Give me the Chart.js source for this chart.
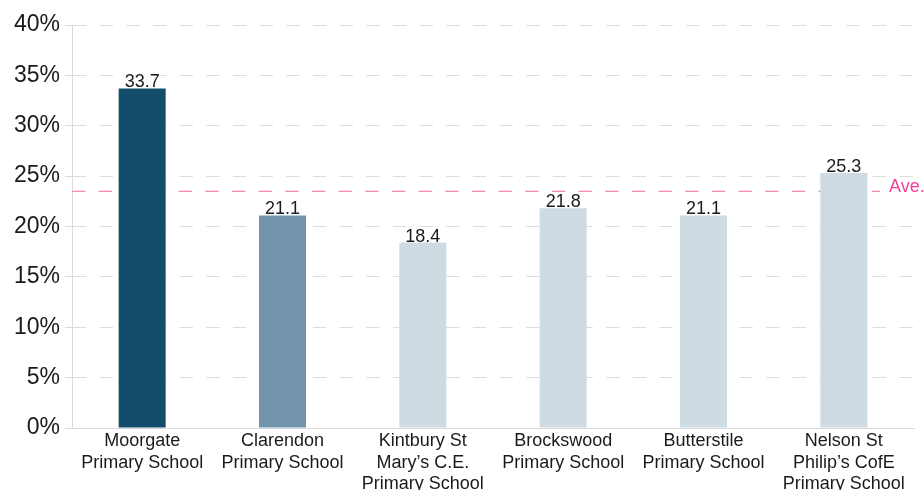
<!DOCTYPE html>
<html>
<head>
<meta charset="utf-8">
<script src="https://cdn.jsdelivr.net/npm/chart.js@4"></script>
<style>
html,body{margin:0;padding:0;background:#fff;}
canvas{display:block;}
</style>
</head>
<body>
<canvas id="c" width="924" height="490"></canvas>
<script>
const categories = [
  ["Moorgate", "Primary School"],
  ["Clarendon", "Primary School"],
  ["Kintbury St", "Mary\u2019s C.E.", "Primary School"],
  ["Brockswood", "Primary School"],
  ["Butterstile", "Primary School"],
  ["Nelson St", "Philip\u2019s CofE", "Primary School"]
];
const values = [33.7, 21.1, 18.4, 21.8, 21.1, 25.3];
const barColors = ["#124e6b", "#7295ad", "#cfdbe3", "#cfdbe3", "#cfdbe3", "#cfdbe3"];
const averageValue = 23.5;
const averageLabel = "Ave.";
const yTicks = [0, 5, 10, 15, 20, 25, 30, 35, 40];

const FONT = "'Liberation Sans', Arial, sans-serif";
const DASH = [13.33, 13.33];

const averagePlugin = {
  id: 'averageLine',
  beforeDatasetsDraw(chart) {
    const {ctx, chartArea} = chart;
    const y = chart.scales.y.getPixelForValue(averageValue);
    ctx.save();
    ctx.strokeStyle = '#ef66a6';
    ctx.lineWidth = 1;
    ctx.setLineDash(DASH);
    ctx.beginPath();
    ctx.moveTo(chartArea.left, y);
    ctx.lineTo(chartArea.right - 34, y);
    ctx.stroke();
    ctx.restore();
  },
  afterDatasetsDraw(chart) {
    const {ctx, chartArea} = chart;
    const y = chart.scales.y.getPixelForValue(averageValue);
    ctx.save();
    ctx.fillStyle = '#f0439b';
    ctx.font = '18px ' + FONT;
    ctx.textAlign = 'left';
    ctx.textBaseline = 'alphabetic';
    ctx.fillText(averageLabel, chartArea.right - 25, y + 1);
    ctx.restore();
  }
};

const valueLabelPlugin = {
  id: 'valueLabels',
  afterDatasetsDraw(chart) {
    const {ctx} = chart;
    const meta = chart.getDatasetMeta(0);
    ctx.save();
    ctx.fillStyle = '#1a1a1a';
    ctx.font = '18px ' + FONT;
    ctx.textAlign = 'center';
    ctx.textBaseline = 'alphabetic';
    meta.data.forEach((bar, i) => {
      ctx.fillText(values[i].toFixed(1), bar.x, bar.y - 1);
    });
    ctx.restore();
  }
};

new Chart(document.getElementById('c'), {
  type: 'bar',
  data: {
    labels: categories,
    datasets: [{
      data: values,
      backgroundColor: barColors,
      borderWidth: 0,
      barPercentage: 0.335,
      categoryPercentage: 1.0
    }]
  },
  options: {
    responsive: false,
    animation: false,
    devicePixelRatio: 1,
    layout: { padding: { top: 25, right: 10, left: 0, bottom: 0 } },
    plugins: {
      legend: { display: false },
      tooltip: { enabled: false }
    },
    scales: {
      x: {
        grid: { display: false, drawTicks: false },
        border: { display: true, color: '#d9d9d9', width: 1 },
        ticks: {
          color: '#1a1a1a',
          font: { family: FONT, size: 18, lineHeight: 1.17 },
          padding: 3,
          maxRotation: 0,
          autoSkip: false
        },
        afterFit(scale) { scale.height = 62; }
      },
      y: {
        min: 0,
        max: 40,
        afterBuildTicks(scale) { scale.ticks = yTicks.map(v => ({value: v})); },
        grid: {
          color: '#dcdcdc',
          lineWidth: 1,
          drawTicks: true,
          tickLength: 7,
          tickColor: '#dcdcdc',
          tickBorderDash: []
        },
        border: { display: true, color: '#d9d9d9', width: 1, dash: DASH },
        ticks: {
          color: '#1a1a1a',
          font: { family: FONT, size: 23 },
          padding: 5,
          callback: (v) => v + '%'
        },
        afterFit(scale) { scale.width = 72; }
      }
    }
  },
  plugins: [averagePlugin, valueLabelPlugin]
});
</script>
</body>
</html>
